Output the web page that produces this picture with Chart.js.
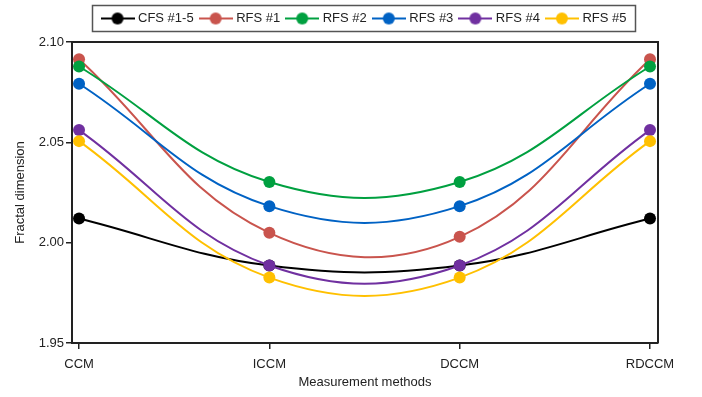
<!DOCTYPE html>
<html lang="en">
<head>
  <meta charset="UTF-8" />
  <title>Fractal dimension by measurement method</title>
  <script src="https://cdn.jsdelivr.net/npm/chart.js"></script>
  <style>
    body { margin: 0; background: #fff; }
    #wrap { width: 702px; height: 397px; }
  </style>
</head>
<body>
  <div id="wrap"><canvas id="grafico"></canvas></div>

  <script>
    // categories and series
    const methods = ['CCM', 'ICCM', 'DCCM', 'RDCCM'];
    const seriesNames = ['CFS #1-5', 'RFS #1', 'RFS #2', 'RFS #3', 'RFS #4', 'RFS #5'];
    const cfs  = [2.0120, 1.9886, 1.9886, 2.0120];
    const rfs1 = [2.0914, 2.0049, 2.0029, 2.0914];
    const rfs2 = [2.0878, 2.0302, 2.0302, 2.0878];
    const rfs3 = [2.0792, 2.0182, 2.0182, 2.0792];
    const rfs4 = [2.0561, 1.9886, 1.9886, 2.0561];
    const rfs5 = [2.0506, 1.9826, 1.9826, 2.0506];
    const yTicks = [1.95, 2.00, 2.05, 2.10];

    const values = [cfs, rfs1, rfs2, rfs3, rfs4, rfs5];
    const colors = ['#000000', '#C9544D', '#00A040', '#0062C4', '#7030A0', '#FFC000'];
    const ink = '#222222';
    const font = { family: "'Liberation Sans', Arial, sans-serif", size: 13 };

    // little "line with a dot" icon for the legend
    function legendIcon(color) {
      const c = document.createElement('canvas');
      c.width = 34; c.height = 14;
      const g = c.getContext('2d');
      g.strokeStyle = color; g.lineWidth = 2;
      g.beginPath(); g.moveTo(0, 7); g.lineTo(34, 7); g.stroke();
      g.fillStyle = color;
      g.beginPath(); g.arc(17, 7, 6, 0, Math.PI * 2); g.fill();
      return c;
    }
    const icons = colors.map(legendIcon);

    const datasets = values.map((arr, i) => ({
      label: seriesNames[i],
      data: arr.map((v, k) => ({ x: k, y: v })),
      borderColor: colors[i],
      backgroundColor: colors[i],
      borderWidth: 2,
      pointRadius: 6,
      pointBorderWidth: 0,
      pointHoverRadius: 6,
      tension: 0.4,
      order: values.length - 1 - i   // later series drawn on top
    }));

    // centre the legend over the plot area and put a frame round it
    const legendFrame = {
      id: 'legendFrame',
      afterLayout(chart) {
        const lg = chart.legend, ca = chart.chartArea;
        const shift = (ca.left + ca.right) / 2 - (lg.left + lg.right) / 2;
        lg.left += shift; lg.right += shift;
      },
      afterDraw(chart) {
        const boxes = chart.legend.legendHitBoxes;
        if (!boxes || !boxes.length) return;
        const l = Math.min(...boxes.map(b => b.left));
        const r = Math.max(...boxes.map(b => b.left + b.width));
        const t = Math.min(...boxes.map(b => b.top));
        const b = Math.max(...boxes.map(b => b.top + b.height));
        const ctx = chart.ctx;
        ctx.save();
        ctx.strokeStyle = '#555'; ctx.lineWidth = 1.5;
        ctx.strokeRect(Math.round(l - 12) + 0.5, Math.round(t - 7) + 0.5, Math.round(r - l + 20), Math.round(b - t + 13));
        ctx.restore();
      }
    };

    // top and right sides of the plot frame
    const plotFrame = {
      id: 'plotFrame',
      afterDraw(chart) {
        const { left, right, top, bottom } = chart.chartArea;
        const ctx = chart.ctx;
        ctx.save();
        ctx.strokeStyle = ink; ctx.lineWidth = 2;
        ctx.beginPath();
        ctx.moveTo(left, top); ctx.lineTo(right, top); ctx.lineTo(right, bottom);
        ctx.stroke();
        ctx.restore();
      }
    };

    const chart = new Chart(document.getElementById('grafico'), {
      type: 'line',
      data: { datasets },
      plugins: [legendFrame, plotFrame],
      options: {
        responsive: true,
        maintainAspectRatio: false,
        animation: false,
        layout: { padding: { top: 4, right: 44, left: 0, bottom: 0 } },
        plugins: {
          tooltip: { enabled: false },
          legend: {
            position: 'top',
            labels: {
              usePointStyle: true,
              pointStyleWidth: 28,
              padding: 8,
              color: ink,
              font,
              sort: (a, b) => a.datasetIndex - b.datasetIndex,
              generateLabels(chart) {
                const items = Chart.defaults.plugins.legend.labels.generateLabels(chart);
                items.forEach(it => { it.pointStyle = icons[it.datasetIndex]; });
                return items;
              }
            }
          },
          // empty subtitle used as a gap between legend and plot
          subtitle: {
            display: true, text: '', weight: 500,
            font: { size: 7, lineHeight: 1 }, padding: 0
          }
        },
        scales: {
          x: {
            type: 'linear',
            min: -0.037,
            max: 3.042,
            afterBuildTicks: s => { s.ticks = methods.map((_, i) => ({ value: i })); },
            afterFit: s => { s.height = 54; },
            ticks: {
              autoSkip: false,
              maxRotation: 0,
              padding: 8,
              color: ink,
              font,
              callback: v => methods[v]
            },
            grid: { drawOnChartArea: false, tickLength: 6, color: ink, lineWidth: 1.5 },
            border: { color: ink, width: 2 },
            title: { display: true, text: 'Measurement methods', color: ink, font, padding: { top: 0, bottom: 7 } }
          },
          y: {
            min: 1.95,
            max: 2.10,
            afterBuildTicks: s => { s.ticks = yTicks.map(v => ({ value: v })); },
            afterFit: s => { s.width = 72; },
            ticks: {
              padding: 2,
              color: ink,
              font,
              callback: v => Number(v).toFixed(2)
            },
            grid: { drawOnChartArea: false, tickLength: 6, color: ink, lineWidth: 1.5 },
            border: { color: ink, width: 2 },
            title: { display: true, text: 'Fractal dimension', color: ink, font, padding: { top: 13, bottom: 0 } }
          }
        }
      }
    });
  </script>
</body>
</html>
